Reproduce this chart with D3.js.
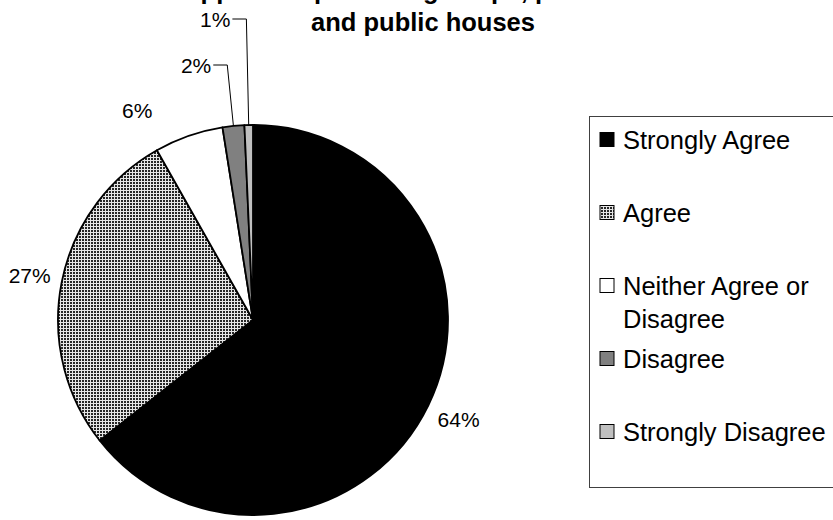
<!DOCTYPE html>
<html>
<head>
<meta charset="utf-8">
<script src="https://cdn.jsdelivr.net/npm/d3@7"></script>
<style>
  html, body { margin: 0; padding: 0; background: #fff; }
  svg { display: block; }
  text { font-family: "Liberation Sans", Arial, sans-serif; }
</style>
</head>
<body>
<svg id="chart" width="833" height="520"></svg>
<script>
// ---- data ----
const categories = ["Strongly Agree", "Agree", "Neither Agree or Disagree", "Disagree", "Strongly Disagree"];
const values = [64.4, 27.4, 5.7, 1.8, 0.7];
const legendLabels = [["Strongly Agree"], ["Agree"], ["Neither Agree or", "Disagree"], ["Disagree"], ["Strongly Disagree"]];
const titleLines = ["Support for protecting shops, post offices", "and public houses"];

// ---- styles ----
const sliceFills = ["#000000", "url(#gridPattern)", "#ffffff", "#808080", "#c0c0c0"];

const W = 833, H = 520;
const cx = 253, cy = 320, R = 195;

const svg = d3.select("#chart");
svg.append("rect").attr("width", W).attr("height", H).attr("fill", "#fff");

const defs = svg.append("defs");
const pat = defs.append("pattern")
  .attr("id", "gridPattern")
  .attr("patternUnits", "userSpaceOnUse")
  .attr("width", 3).attr("height", 3);
pat.append("rect").attr("width", 3).attr("height", 3).attr("fill", "#e6e6e6");
pat.append("rect").attr("width", 2).attr("height", 2).attr("fill", "#262626");

// ---- title ----
const title = svg.append("g");
title.selectAll("text").data(titleLines).join("text")
  .attr("x", 423)
  .attr("y", (d, i) => -1 + i * 32)
  .attr("text-anchor", "middle")
  .attr("font-size", 25.5)
  .attr("font-weight", "bold")
  .attr("fill", "#000")
  .text(d => d);

// ---- pie ----
const total = d3.sum(values);
const pie = d3.pie().sort(null).value(d => d);
const arcs = pie(values);
const arc = d3.arc().innerRadius(0).outerRadius(R);

const g = svg.append("g").attr("transform", `translate(${cx},${cy})`);
g.selectAll("path").data(arcs).join("path")
  .attr("d", arc)
  .attr("fill", (d, i) => sliceFills[i])
  .attr("stroke", "#000")
  .attr("stroke-width", 1.8)
  .attr("stroke-linejoin", "round");

// ---- data labels ----
const fmt = d3.format(".0%");
const labelFont = 21;
const mid = d => (d.startAngle + d.endAngle) / 2;
const small = arcs.filter(d => d.value / total < 0.03);
const large = arcs.filter(d => d.value / total >= 0.03);

// small slices: leader lines going up with an elbow
const pieTop = cy - R;
const smallSorted = small.slice().sort((a, b) => mid(a) - mid(b));
const leaderInfo = smallSorted.map((d, k) => {
  const a = mid(d);
  const p0 = [cx + R * Math.sin(a), cy - R * Math.cos(a)];
  const yL = pieTop - 60 - k * 46;
  const t = (cy - yL) / Math.cos(a);
  const p1 = [cx + t * Math.sin(a), yL];
  const p2 = [p1[0] - 14, yL];
  return { d, p0, p1, p2, textX: p2[0] - 2, textY: yL };
});

svg.append("g").selectAll("polyline").data(leaderInfo).join("polyline")
  .attr("points", L => [L.p0, L.p1, L.p2].map(p => p.join(",")).join(" "))
  .attr("fill", "none")
  .attr("stroke", "#000")
  .attr("stroke-width", 1);

svg.append("g").selectAll("text").data(leaderInfo).join("text")
  .attr("x", L => L.textX)
  .attr("y", L => L.textY)
  .attr("text-anchor", "end")
  .attr("dominant-baseline", "central")
  .attr("font-size", labelFont)
  .attr("fill", "#000")
  .text(L => fmt(L.d.value / total));

// large slice labels: bounding box kept a fixed gap outside the pie
const gap = 13;
const halfH = 10;
const leftmostLeaderText = d3.min(leaderInfo, L => L.textX - 32);
const largeInfo = large.map(d => {
  const a = mid(d);
  const label = fmt(d.value / total);
  const halfW = label.length * 6;
  const s = Math.sin(a), c = Math.cos(a);
  const r = R + gap + Math.abs(s) * halfW + Math.abs(c) * halfH;
  let x = cx + r * s, y = cy - r * c;
  // nudge labels that would crowd the leader-line labels
  if (y < pieTop && x + halfW > leftmostLeaderText - 30) x = leftmostLeaderText - 30 - halfW;
  return { d, x, y, label };
});
svg.append("g").selectAll("text").data(largeInfo).join("text")
  .attr("x", L => L.x)
  .attr("y", L => L.y)
  .attr("text-anchor", "middle")
  .attr("dominant-baseline", "central")
  .attr("font-size", labelFont)
  .attr("fill", "#000")
  .text(L => L.label);

// ---- legend ----
const lg = svg.append("g").attr("transform", "translate(589,116)");
lg.append("rect")
  .attr("x", 0.5).attr("y", 0.5)
  .attr("width", 270).attr("height", 371)
  .attr("fill", "#fff")
  .attr("stroke", "#404040")
  .attr("stroke-width", 1);
const rowY = d3.scaleLinear().domain([0, 1]).range([24, 24 + 73]);
const items = lg.selectAll("g.item").data(categories).join("g")
  .attr("class", "item")
  .attr("transform", (d, i) => `translate(0,${rowY(i)})`);
items.append("rect")
  .attr("x", 11).attr("y", -7.5)
  .attr("width", 14).attr("height", 14)
  .attr("fill", (d, i) => sliceFills[i])
  .attr("stroke", "#000")
  .attr("stroke-width", 1);
items.each(function(d, i) {
  d3.select(this).selectAll("text").data(legendLabels[i]).join("text")
    .attr("x", 34)
    .attr("y", (t, j) => 9 + j * 33)
    .attr("font-size", 25.5)
    .attr("fill", "#000")
    .text(t => t);
});
</script>
</body>
</html>
